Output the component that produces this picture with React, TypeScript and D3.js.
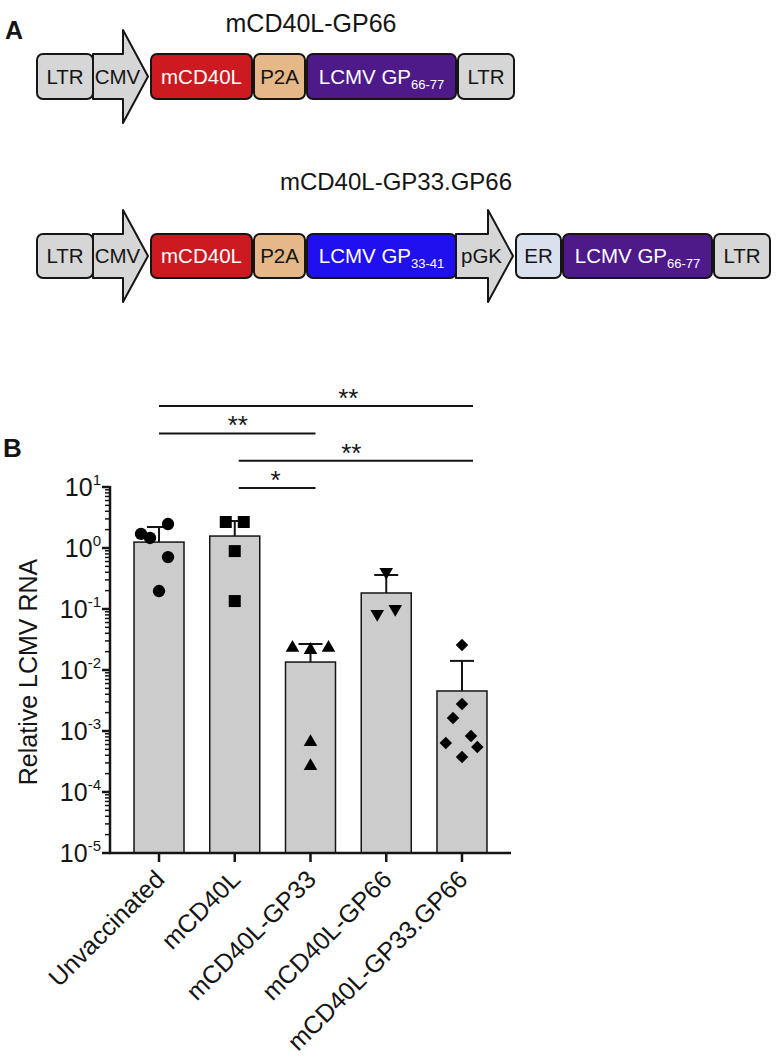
import React from "react";
import * as d3 from "d3";

// ---- panel A: constructs ----
const construct1 = ["LTR", "CMV", "mCD40L", "P2A", "GP66", "LTR"];
const construct2 = ["LTR", "CMV", "mCD40L", "P2A", "GP33", "pGK", "ER", "GP66", "LTR"];
const constructTitles = ["mCD40L-GP66", "mCD40L-GP33.GP66"];

// ---- panel B: data ----
const groups = ["Unvaccinated", "mCD40L", "mCD40L-GP33", "mCD40L-GP66", "mCD40L-GP33.GP66"];
const means = [1.25, 1.57, 0.0135, 0.183, 0.00453];
const errTop = [2.21, 2.77, 0.0267, 0.361, 0.0141];
const unvaccinated = [1.7, 1.46, 2.47, 0.71, 0.197];
const mcd40l = [2.67, 2.67, 0.89, 0.135];
const gp33 = [0.023, 0.0213, 0.023, 0.00066, 0.000267];
const gp66 = [0.404, 0.0828, 0.1];
const gp33gp66 = [0.0257, 0.00277, 0.00163, 0.000828, 0.000636, 0.000547, 0.000375];
const points = [unvaccinated, mcd40l, gp33, gp66, gp33gp66];
// horizontal scatter slots (prism-like spread)
const slots = [
  [-2, -1, 1, 1, 0],
  [-1, 1, 0, 0],
  [-2, 0, 2, 0, 0],
  [0, -1, 1],
  [0, 0, -1, 1, -1.8, 1.7, 0],
];
const yTicks = [1e-5, 1e-4, 1e-3, 1e-2, 1e-1, 1, 10];
const comparisons = [
  { from: 0, to: 4, label: "**", labelFrom: 1, labelTo: 4 },
  { from: 0, to: 2, label: "**", labelFrom: 0, labelTo: 2 },
  { from: 1, to: 4, label: "**", labelFrom: 1, labelTo: 4 },
  { from: 1, to: 2, label: "*", labelFrom: 1, labelTo: 2 },
];

const FONT = "'Liberation Sans', Arial, Helvetica, sans-serif";
const INK = "#151515";

const parts: Record<string, any> = {
  LTR: { kind: "box", text: "LTR", w: 56, fill: "#d6d6d6", color: INK },
  CMV: { kind: "arrow", text: "CMV", w: 55, fill: "#d6d6d6", color: INK },
  pGK: { kind: "arrow", text: "pGK", w: 57, fill: "#d6d6d6", color: INK },
  mCD40L: { kind: "box", text: "mCD40L", w: 101, fill: "#cc1a20", color: "#fff" },
  P2A: { kind: "box", text: "P2A", w: 51, fill: "#e6b887", color: INK },
  GP33: { kind: "box", text: "LCMV GP", sub: "33-41", w: 149, fill: "#2010f0", color: "#fff" },
  GP66: { kind: "box", text: "LCMV GP", sub: "66-77", w: 149, fill: "#4e1a8a", color: "#fff" },
  ER: { kind: "box", text: "ER", w: 45, fill: "#d9e0ee", color: INK },
};

function Construct({ items, x0, top, h }: { items: string[]; x0: number; top: number; h: number }) {
  let x = x0;
  let prev = "";
  const cy = top + h / 2;
  const els: React.ReactNode[] = [];
  items.forEach((name, i) => {
    const p = parts[name];
    if (i > 0) {
      if (parts[prev].kind === "arrow") x += 3;
      else if (p.kind === "box") x += 2;
    }
    const w = p.w;
    if (p.kind === "arrow") {
      const head = 25;
      const ext = 24;
      const path = d3.path();
      path.moveTo(x, top);
      path.lineTo(x + w - head, top);
      path.lineTo(x + w - head, top - ext);
      path.lineTo(x + w, cy);
      path.lineTo(x + w - head, top + h + ext);
      path.lineTo(x + w - head, top + h);
      path.lineTo(x, top + h);
      path.closePath();
      els.push(
        <g key={i}>
          <path d={path.toString()} fill={p.fill} stroke={INK} strokeWidth={2} strokeLinejoin="round" />
          <text x={x + w / 2 - 3} y={cy + 7} textAnchor="middle" fontSize={20.5} fill={p.color}>
            {p.text}
          </text>
        </g>
      );
    } else {
      els.push(
        <g key={i}>
          <rect x={x} y={top} width={w} height={h} rx={6} fill={p.fill} stroke={INK} strokeWidth={2} />
          <text x={x + w / 2} y={cy + 7} textAnchor="middle" fontSize={20.5} fill={p.color}>
            {p.text}
            {p.sub && (
              <tspan fontSize={13} dy={5}>
                {p.sub}
              </tspan>
            )}
          </text>
        </g>
      );
    }
    x += w;
    prev = name;
  });
  return <g>{els}</g>;
}

const symbols = [
  { type: d3.symbolCircle, size: 120, rot: 0 },
  { type: d3.symbolSquare, size: 144, rot: 0 },
  { type: d3.symbolTriangle, size: 80, rot: 0 },
  { type: d3.symbolTriangle, size: 80, rot: 180 },
  { type: d3.symbolSquare, size: 78, rot: 45 },
];

export default function App() {
  const x = d3.scalePoint<string>().domain(groups).range([110, 511]).padding(0.647);
  const y = d3.scaleLog().domain([1e-5, 10]).range([853, 487]);
  const barW = 50;
  const slotW = 9;

  const minor: number[] = [];
  for (let e = -5; e < 1; e++) for (let m = 2; m <= 9; m++) minor.push(m * Math.pow(10, e));

  const sigY = (i: number) => 488 - 27.3 * i;

  return (
    <svg width={781} height={1057} style={{ position: "absolute", left: 0, top: 0, background: "#fff" }} fontFamily={FONT}>
      {/* Panel A */}
      <text x={5} y={39} fontSize={25} fontWeight="bold" fill={INK}>A</text>
      <text x={311} y={32} fontSize={25} textAnchor="middle" fill={INK}>{constructTitles[0]}</text>
      <Construct items={construct1} x0={37} top={54} h={45} />
      <text x={396} y={190} fontSize={24} textAnchor="middle" fill={INK}>{constructTitles[1]}</text>
      <Construct items={construct2} x0={37} top={234} h={44} />

      {/* Panel B */}
      <text x={3} y={457} fontSize={26} fontWeight="bold" fill={INK}>B</text>

      {/* significance */}
      {comparisons.map((c, i) => {
        const x1 = x(groups[c.from])! + (c.from > 0 ? 4 : 0);
        const x2 = x(groups[c.to])! + (c.to === 4 ? 11 : 5);
        const lx = (x(groups[c.labelFrom])! + x(groups[c.labelTo])!) / 2 + (c.labelFrom === c.from && c.labelTo === c.to ? 3 : 0);
        const yy = comparisons.length - 1 - i;
        return (
          <g key={i}>
            <line x1={x1} x2={x2} y1={sigY(yy)} y2={sigY(yy)} stroke={INK} strokeWidth={2} />
            <text x={lx} y={sigY(yy) + 1} textAnchor="middle" fontSize={26} fill={INK}>{c.label}</text>
          </g>
        );
      })}

      {/* bars */}
      {groups.map((g, i) => (
        <rect key={g} x={x(g)! - barW / 2} y={y(means[i])} width={barW} height={853 - y(means[i])}
          fill="#cccccc" stroke={INK} strokeWidth={1.5} />
      ))}
      {/* error bars */}
      {groups.map((g, i) => (
        <g key={g} stroke={INK} strokeWidth={2}>
          <line x1={x(g)} x2={x(g)} y1={y(means[i])} y2={y(errTop[i])} />
          <line x1={x(g)! - 12} x2={x(g)! + 12} y1={y(errTop[i])} y2={y(errTop[i])} />
        </g>
      ))}
      {/* points */}
      {points.map((vals, gi) =>
        vals.map((v, j) => {
          const s = symbols[gi];
          const d = d3.symbol().type(s.type).size(s.size)()!;
          const px = x(groups[gi])! + slots[gi][j] * slotW;
          return (
            <path key={`${gi}-${j}`} d={d} fill="#000"
              transform={`translate(${px},${y(v)}) rotate(${s.rot})`} />
          );
        })
      )}

      {/* y axis */}
      <line x1={110} x2={110} y1={486} y2={854} stroke={INK} strokeWidth={2.5} />
      {minor.map((t) => (
        <line key={t} x1={105} x2={110} y1={y(t)} y2={y(t)} stroke={INK} strokeWidth={1.5} />
      ))}
      {yTicks.map((t) => {
        const e = Math.round(Math.log10(t));
        return (
          <g key={t}>
            <line x1={102} x2={110} y1={y(t)} y2={y(t)} stroke={INK} strokeWidth={2.5} />
            <text x={101} y={y(t) + 9} textAnchor="end" fontSize={25} fill={INK}>
              10<tspan fontSize={15} dy={-11}>{e}</tspan>
            </text>
          </g>
        );
      })}
      <text transform={`translate(37,672) rotate(-90)`} textAnchor="middle" fontSize={25} fill={INK}>
        Relative LCMV RNA
      </text>

      {/* x axis */}
      <line x1={109} x2={511} y1={853} y2={853} stroke={INK} strokeWidth={2.5} />
      {groups.map((g) => (
        <g key={g}>
          <line x1={x(g)} x2={x(g)} y1={853} y2={862} stroke={INK} strokeWidth={2.5} />
          <text transform={`translate(${x(g)! + 7},881) rotate(-45)`} textAnchor="end" fontSize={25} fill={INK}>
            {g}
          </text>
        </g>
      ))}
    </svg>
  );
}
